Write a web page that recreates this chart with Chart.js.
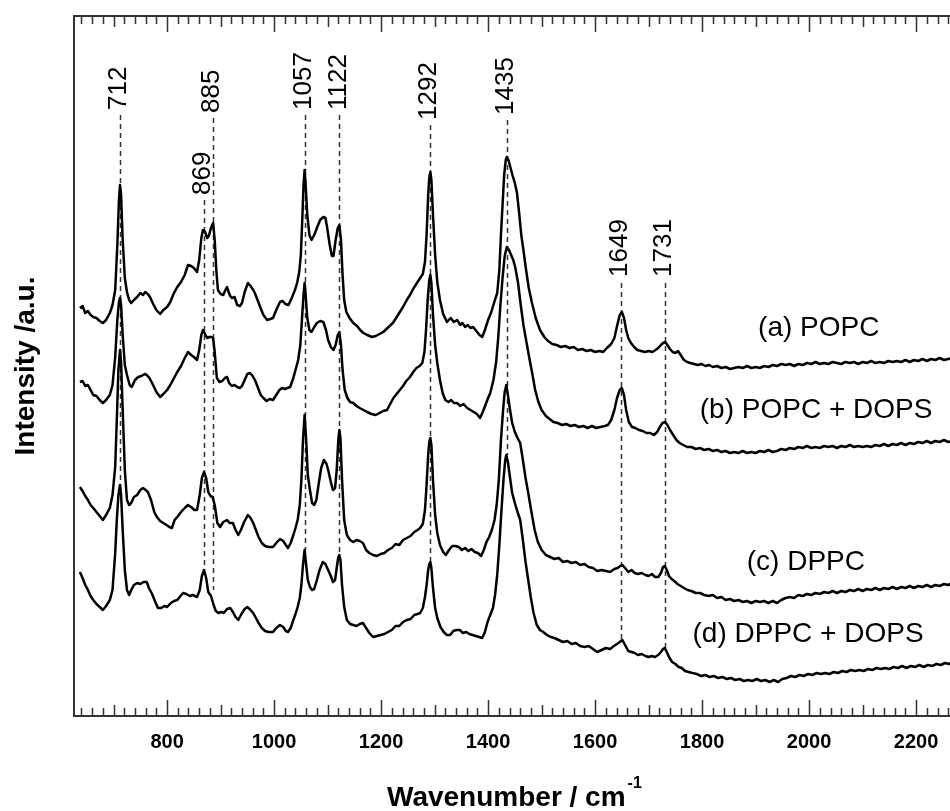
<!DOCTYPE html>
<html>
<head>
<meta charset="utf-8">
<script src="https://cdn.jsdelivr.net/npm/chart.js@4.4.0/dist/chart.umd.min.js"></script>
<style>
  html, body { margin: 0; padding: 0; background: #fff; overflow: hidden; }
  #wrap { width: 1100px; height: 811px; }
</style>
</head>
<body>
<div id="wrap"><canvas id="chart" width="1100" height="811"></canvas></div>
<script>
// --- Data (wavenumber, intensity in a.u.) ---
const xTickValues = [800, 1000, 1200, 1400, 1600, 1800, 2000, 2200, 2400];

const popc = [
  [637,408],[642,410],[647,403],[652,405],[657,401],[662,399],[668,398],[674,395],[680,393],[686,396],
  [693,403],[698,411],[703,426],[707,471],[710,516],[712,531],[714,521],[717,476],[721,438],[725,424],
  [729,416],[733,413],[738,416],[744,419],[750,423],[755,421],[759,424],[764,422],[768,419],[774,412],
  [780,406],[787,402],[793,406],[800,409],[806,414],[812,422],[819,429],[826,434],[833,441],[839,451],
  [845,450],[850,448],[856,444],[860,456],[864,478],[867,486],[871,484],[875,478],[878,480],[882,488],
  [886,493],[889,476],[892,446],[895,426],[900,422],[905,421],[909,426],[912,429],[915,424],[918,420],
  [921,418],[926,419],[931,411],[936,410],[940,413],[945,424],[951,433],[956,430],[961,426],[964,423],
  [969,416],[974,409],[980,401],[987,396],[993,397],[998,398],[1004,406],[1011,414],[1016,415],[1021,412],
  [1027,411],[1033,418],[1039,426],[1043,433],[1047,444],[1050,461],[1053,501],[1055,531],[1057,546],[1059,531],
  [1062,501],[1066,481],[1070,476],[1075,481],[1080,488],[1086,496],[1092,499],[1096,498],[1099,489],[1104,471],
  [1108,460],[1111,460],[1115,476],[1119,488],[1122,491],[1125,476],[1128,441],[1131,416],[1135,404],[1141,398],
  [1148,393],[1155,390],[1161,386],[1167,383],[1174,381],[1183,379],[1190,380],[1197,382],[1204,384],[1210,387],
  [1216,390],[1222,393],[1228,398],[1235,404],[1241,409],[1248,416],[1254,421],[1261,428],[1267,433],[1273,438],
  [1278,442],[1282,454],[1285,481],[1288,521],[1290,538],[1292,544],[1294,536],[1297,501],[1301,461],[1305,434],
  [1310,416],[1316,402],[1323,394],[1330,398],[1336,394],[1342,396],[1348,391],[1352,393],[1357,389],[1362,391],
  [1367,388],[1372,389],[1378,385],[1384,381],[1389,379],[1394,386],[1400,396],[1406,404],[1411,413],[1417,423],
  [1421,446],[1424,481],[1427,511],[1430,541],[1433,556],[1435,559],[1438,556],[1442,548],[1446,540],[1450,533],
  [1454,523],[1458,503],[1462,481],[1466,466],[1471,446],[1476,428],[1482,413],[1489,398],[1497,386],[1505,379],
  [1512,375],[1520,372],[1528,371],[1536,369],[1544,370],[1552,368],[1560,369],[1568,366],[1576,367],[1584,365],
  [1592,366],[1600,364],[1608,365],[1615,364],[1622,368],[1630,372],[1636,378],[1641,390],[1646,401],[1650,404],
  [1654,398],[1658,386],[1662,378],[1667,373],[1673,369],[1679,366],[1686,365],[1693,364],[1700,365],[1707,364],
  [1713,366],[1718,368],[1723,371],[1727,373],[1731,374],[1735,371],[1740,367],[1745,364],[1750,363],[1755,365],
  [1760,361],[1766,356],[1772,354],[1778,353],[1785,352],[1792,351],[1799,352],[1806,350],[1813,351],[1820,349],
  [1828,350],[1836,348],[1844,349],[1852,347],[1860,348],[1868,349],[1876,348],[1884,350],[1892,348],[1900,349],
  [1908,348],[1916,350],[1924,349],[1932,351],[1940,350],[1948,352],[1956,351],[1964,352],[1972,350],[1980,352],
  [1988,351],[1996,353],[2004,352],[2012,354],[2020,352],[2028,353],[2036,352],[2044,354],[2052,353],[2060,352],
  [2068,354],[2076,353],[2084,354],[2092,352],[2100,354],[2108,353],[2116,355],[2124,353],[2132,354],[2140,353],
  [2148,355],[2156,354],[2164,355],[2172,354],[2180,356],[2188,354],[2196,356],[2204,355],[2212,357],[2220,355],
  [2228,357],[2236,356],[2244,358],[2252,356],[2260,357],[2268,358],[2280,357]
];

const popcDops = [
  [637,334],[642,335],[647,330],[652,331],[657,326],[662,321],[668,320],[674,316],[680,313],[686,316],
  [693,321],[698,331],[703,359],[707,396],[710,414],[712,418],[714,411],[717,381],[721,351],[725,341],
  [730,331],[734,329],[740,336],[746,339],[752,340],[758,342],[762,341],[767,338],[772,333],[780,324],
  [787,319],[793,322],[800,326],[806,331],[812,337],[819,344],[826,350],[833,358],[839,364],[845,361],
  [850,359],[856,356],[860,366],[864,381],[867,386],[871,382],[875,378],[879,379],[883,379],[886,378],
  [889,364],[893,338],[898,334],[903,335],[908,338],[912,339],[916,333],[921,330],[926,331],[931,329],
  [936,328],[940,330],[945,336],[950,342],[955,343],[960,340],[965,335],[970,328],[975,321],[980,318],
  [986,315],[992,317],[998,316],[1004,321],[1010,326],[1015,328],[1020,327],[1025,328],[1030,329],[1036,338],
  [1041,348],[1045,356],[1049,371],[1052,396],[1055,421],[1057,433],[1059,421],[1062,398],[1066,386],[1070,384],
  [1075,389],[1080,393],[1086,395],[1092,394],[1097,386],[1101,376],[1106,369],[1111,366],[1115,371],[1119,381],
  [1122,384],[1125,371],[1128,346],[1132,326],[1137,318],[1142,314],[1148,313],[1154,310],[1160,308],[1167,306],
  [1174,304],[1182,302],[1190,301],[1197,303],[1204,305],[1211,306],[1217,312],[1223,318],[1229,322],[1235,326],
  [1241,330],[1247,335],[1254,339],[1260,344],[1266,348],[1272,350],[1277,353],[1281,364],[1284,386],[1287,416],
  [1290,436],[1292,441],[1294,433],[1297,401],[1301,371],[1305,353],[1310,336],[1315,323],[1320,316],[1326,314],
  [1331,316],[1336,313],[1342,313],[1348,310],[1354,312],[1361,308],[1367,306],[1373,304],[1379,302],[1385,298],
  [1390,304],[1395,311],[1400,318],[1404,323],[1410,336],[1415,354],[1419,379],[1423,411],[1427,438],[1431,460],
  [1435,469],[1439,466],[1443,461],[1447,456],[1451,448],[1456,433],[1461,411],[1466,391],[1471,376],[1476,361],
  [1482,344],[1488,326],[1494,314],[1500,306],[1508,300],[1515,297],[1522,294],[1530,293],[1538,291],[1546,292],
  [1554,290],[1562,291],[1570,289],[1578,290],[1586,288],[1594,290],[1602,288],[1610,289],[1618,290],[1624,291],
  [1630,296],[1636,306],[1641,318],[1646,326],[1650,328],[1654,321],[1658,306],[1663,294],[1669,289],[1675,288],
  [1682,286],[1689,285],[1696,283],[1703,283],[1710,281],[1716,284],[1721,289],[1726,293],[1731,294],[1735,291],
  [1740,286],[1746,281],[1752,276],[1758,273],[1765,271],[1772,269],[1780,269],[1788,267],[1796,268],[1804,266],
  [1812,267],[1820,265],[1828,266],[1836,264],[1844,265],[1852,263],[1860,264],[1868,263],[1876,265],[1884,263],
  [1892,264],[1900,263],[1908,265],[1916,264],[1924,266],[1932,264],[1940,265],[1948,267],[1956,266],[1964,268],
  [1972,267],[1980,269],[1988,268],[1996,270],[2004,268],[2012,269],[2020,268],[2028,270],[2036,269],[2044,270],
  [2052,268],[2060,270],[2068,269],[2076,271],[2084,269],[2092,270],[2100,269],[2108,270],[2116,269],[2124,271],
  [2132,270],[2140,272],[2148,270],[2156,272],[2164,271],[2172,273],[2180,271],[2188,273],[2196,272],[2204,274],
  [2212,273],[2220,275],[2228,273],[2236,275],[2244,274],[2252,276],[2260,274],[2268,275],[2280,275]
];

const dppc = [
  [637,229],[642,225],[647,220],[652,216],[657,211],[662,208],[668,204],[674,200],[680,196],[686,201],
  [693,208],[698,221],[703,249],[706,296],[709,346],[712,366],[714,354],[717,306],[721,246],[725,216],
  [729,211],[733,213],[738,219],[744,221],[750,226],[755,228],[760,226],[764,224],[770,216],[776,204],
  [781,199],[787,195],[793,193],[799,191],[804,189],[809,188],[814,196],[819,199],[826,204],[833,208],
  [839,211],[845,209],[851,206],[856,206],[861,221],[865,238],[869,244],[873,238],[877,224],[881,220],
  [885,219],[889,211],[894,193],[899,189],[905,194],[912,196],[917,193],[923,193],[928,186],[933,181],
  [938,186],[944,194],[951,201],[956,198],[961,193],[966,186],[971,179],[977,173],[983,170],[990,169],
  [998,169],[1004,173],[1011,177],[1017,175],[1022,171],[1026,168],[1031,173],[1036,181],[1040,188],[1044,196],
  [1048,211],[1051,236],[1054,276],[1057,301],[1060,276],[1063,241],[1067,226],[1071,213],[1075,211],[1079,216],
  [1083,231],[1088,248],[1093,256],[1098,252],[1102,244],[1106,234],[1110,226],[1114,228],[1117,246],[1120,276],
  [1122,286],[1124,278],[1127,236],[1131,196],[1136,181],[1142,176],[1148,174],[1154,176],[1160,175],[1166,173],
  [1172,166],[1178,163],[1185,161],[1192,160],[1199,162],[1206,163],[1213,166],[1220,168],[1227,172],[1234,171],
  [1241,176],[1248,178],[1255,180],[1262,184],[1268,186],[1273,188],[1278,192],[1282,206],[1285,231],[1288,261],
  [1290,274],[1292,278],[1294,271],[1297,236],[1301,201],[1305,183],[1310,171],[1316,164],[1321,161],[1327,166],
  [1333,170],[1339,170],[1345,169],[1351,166],[1357,168],[1363,165],[1369,167],[1375,164],[1381,163],[1387,160],
  [1392,166],[1397,174],[1402,179],[1407,186],[1412,196],[1416,211],[1420,236],[1424,276],[1428,306],[1431,324],
  [1434,331],[1437,321],[1441,306],[1445,293],[1450,284],[1455,278],[1460,273],[1465,256],[1470,238],[1475,223],
  [1481,204],[1487,186],[1493,174],[1500,166],[1508,161],[1516,159],[1524,157],[1532,158],[1540,154],[1548,155],
  [1556,153],[1564,154],[1572,151],[1580,152],[1588,149],[1596,148],[1604,145],[1612,146],[1620,145],[1628,144],
  [1636,147],[1642,148],[1647,150],[1651,151],[1656,148],[1662,144],[1668,146],[1674,143],[1680,142],[1687,143],
  [1694,141],[1700,140],[1706,142],[1712,139],[1718,139],[1723,143],[1727,149],[1730,150],[1734,146],[1738,140],
  [1743,137],[1748,135],[1754,132],[1760,130],[1766,128],[1773,126],[1780,125],[1788,123],[1796,123],[1804,121],
  [1812,120],[1820,121],[1828,118],[1836,119],[1844,116],[1852,117],[1860,115],[1868,116],[1876,114],[1884,115],
  [1892,113],[1900,115],[1908,114],[1916,115],[1924,113],[1932,115],[1940,113],[1948,116],[1956,118],[1964,119],
  [1972,118],[1980,121],[1988,120],[1996,122],[2004,121],[2012,123],[2020,122],[2028,124],[2036,123],[2044,125],
  [2052,123],[2060,125],[2068,124],[2076,126],[2084,125],[2092,127],[2100,125],[2108,127],[2116,126],[2124,128],
  [2132,126],[2140,128],[2148,127],[2156,129],[2164,127],[2172,129],[2180,128],[2188,130],[2196,128],[2204,130],
  [2212,129],[2220,131],[2228,129],[2236,131],[2244,130],[2252,132],[2260,131],[2268,133],[2280,132]
];

const dppcDops = [
  [637,144],[642,138],[647,131],[652,126],[657,120],[662,116],[668,112],[674,109],[680,106],[686,110],
  [693,116],[698,126],[703,163],[706,196],[709,221],[712,231],[714,221],[717,186],[721,146],[725,126],
  [729,121],[733,126],[738,131],[744,133],[750,132],[756,134],[762,134],[766,128],[772,122],[778,114],
  [783,108],[789,108],[795,110],[800,109],[807,113],[813,115],[819,116],[825,120],[830,123],[836,122],
  [842,120],[848,121],[856,119],[861,126],[865,140],[869,146],[873,138],[877,124],[882,120],[887,111],
  [891,105],[896,103],[901,104],[906,103],[912,107],[918,108],[923,104],[928,99],[933,96],[939,102],
  [945,107],[950,109],[956,106],[961,103],[966,98],[971,93],[977,88],[983,85],[990,84],[998,84],
  [1004,88],[1011,91],[1017,89],[1022,85],[1026,84],[1031,88],[1036,96],[1040,102],[1044,109],[1048,118],
  [1051,131],[1054,151],[1057,166],[1060,151],[1063,136],[1067,129],[1071,126],[1075,127],[1080,136],[1085,146],
  [1091,154],[1096,152],[1101,146],[1106,140],[1110,134],[1114,136],[1117,148],[1120,159],[1122,161],[1124,156],
  [1127,131],[1131,109],[1136,96],[1142,92],[1148,91],[1154,90],[1160,92],[1166,93],[1172,88],[1178,83],
  [1185,79],[1192,80],[1199,81],[1206,82],[1213,84],[1220,86],[1227,90],[1234,90],[1241,94],[1248,96],
  [1255,97],[1262,101],[1268,102],[1273,103],[1278,108],[1282,119],[1285,131],[1288,146],[1290,152],[1292,154],
  [1294,148],[1297,128],[1301,108],[1305,98],[1311,89],[1317,84],[1323,81],[1329,81],[1335,85],[1341,86],
  [1347,86],[1353,83],[1359,84],[1365,82],[1371,81],[1377,80],[1383,79],[1389,78],[1394,84],[1399,94],
  [1404,101],[1409,108],[1413,121],[1417,141],[1421,171],[1425,206],[1429,238],[1432,256],[1434,261],[1437,254],
  [1441,238],[1445,223],[1450,213],[1455,204],[1460,196],[1465,176],[1470,154],[1475,136],[1480,118],[1485,103],
  [1491,91],[1497,86],[1503,84],[1510,81],[1517,79],[1524,78],[1532,76],[1540,74],[1548,75],[1556,72],
  [1564,73],[1572,70],[1580,69],[1588,70],[1596,67],[1604,64],[1612,66],[1620,68],[1628,67],[1635,70],
  [1641,72],[1646,74],[1651,76],[1656,71],[1662,65],[1668,64],[1674,63],[1680,61],[1687,62],[1694,60],
  [1700,59],[1706,60],[1712,59],[1718,61],[1723,64],[1727,67],[1730,68],[1734,64],[1739,58],[1744,54],
  [1750,52],[1756,49],[1762,48],[1768,45],[1775,44],[1782,43],[1790,42],[1798,40],[1806,41],[1814,39],
  [1822,40],[1830,38],[1838,39],[1846,37],[1854,38],[1862,36],[1870,37],[1878,35],[1886,36],[1894,35],
  [1902,37],[1910,35],[1918,36],[1926,34],[1934,36],[1942,34],[1950,37],[1958,38],[1966,40],[1974,39],
  [1982,41],[1990,40],[1998,42],[2006,41],[2014,43],[2022,42],[2030,43],[2038,42],[2046,44],[2054,43],
  [2062,45],[2070,44],[2078,46],[2086,45],[2094,46],[2102,45],[2110,47],[2118,46],[2126,48],[2134,47],
  [2142,48],[2150,47],[2158,49],[2166,48],[2174,50],[2182,48],[2190,50],[2198,49],[2206,51],[2214,49],
  [2222,51],[2230,50],[2238,52],[2246,51],[2254,53],[2262,52],[2270,54],[2280,53]
];

// marked bands: wavenumber, label bottom, dash top, dash bottom (intensity units)
const peakPos    = [712, 869, 885, 1057, 1122, 1292, 1435, 1649, 1731];
const peakLabelY = [606, 521, 603, 606, 606, 596, 601, 439, 439];
const peakDashTop = [601, 516, 598, 601, 601, 591, 596, 433, 433];
const peakDashBottom = [231, 146, 126, 166, 161, 154, 261, 76, 68];

const seriesNames = ['(a) POPC', '(b) POPC + DOPS', '(c) DPPC', '(d) DPPC + DOPS'];
const seriesLabelX = [2018, 2013, 1994, 1998];
const seriesLabelY = [388, 306, 154, 82];

const FONT = '"Liberation Sans", Arial, Helvetica, sans-serif';

// --- Plugins ---
const framePlugin = {
    id: 'frame',
    beforeDatasetsDraw(chart) {
        const { ctx, scales: { x, y } } = chart;
        ctx.save();
        // dashed band markers
        ctx.strokeStyle = '#333';
        ctx.lineWidth = 1.5;
        ctx.setLineDash([5, 4]);
        peakPos.forEach((p, i) => {
            const px = Math.round(x.getPixelForValue(p)) + 0.5;
            ctx.beginPath();
            ctx.moveTo(px, y.getPixelForValue(peakDashTop[i]));
            ctx.lineTo(px, y.getPixelForValue(peakDashBottom[i]));
            ctx.stroke();
        });
        ctx.restore();
    },
    afterDraw(chart) {
        const { ctx, chartArea: a, scales: { x, y } } = chart;
        ctx.save();
        // frame
        ctx.strokeStyle = '#333';
        ctx.lineWidth = 2;
        ctx.strokeRect(a.left, a.top, a.right - a.left, a.bottom - a.top);
        // inward ticks, top and bottom
        ctx.lineWidth = 1.5;
        for (let v = 640; v <= x.max; v += 20) {
            const len = v % 200 === 0 ? 16 : (v % 100 === 0 ? 11 : 8);
            const px = Math.round(x.getPixelForValue(v)) + 0.5;
            ctx.beginPath();
            ctx.moveTo(px, a.bottom);
            ctx.lineTo(px, a.bottom - len);
            ctx.moveTo(px, a.top);
            ctx.lineTo(px, a.top + len);
            ctx.stroke();
        }
        // peak labels
        ctx.fillStyle = '#000';
        ctx.font = '26px ' + FONT;
        ctx.textAlign = 'left';
        ctx.textBaseline = 'middle';
        peakPos.forEach((p, i) => {
            ctx.save();
            ctx.translate(x.getPixelForValue(p) - 1, y.getPixelForValue(peakLabelY[i]));
            ctx.rotate(-Math.PI / 2);
            ctx.fillText(String(p), 0, 0);
            ctx.restore();
        });
        // series labels
        ctx.font = '28px ' + FONT;
        ctx.textAlign = 'center';
        seriesNames.forEach((n, i) => {
            ctx.fillText(n, x.getPixelForValue(seriesLabelX[i]), y.getPixelForValue(seriesLabelY[i]));
        });
        // x axis title with superscript
        ctx.textAlign = 'left';
        ctx.textBaseline = 'alphabetic';
        ctx.font = 'bold 28px ' + FONT;
        const title = 'Wavenumber / cm';
        const tx = 387, ty = a.bottom + 90;
        ctx.fillText(title, tx, ty);
        const w = ctx.measureText(title).width;
        ctx.font = 'bold 16px ' + FONT;
        ctx.fillText('-1', tx + w + 2, ty - 18);
        ctx.restore();
    }
};

// --- Chart ---
const mk = (data) => ({
    data: data.map(([x, y]) => ({ x, y })),
    borderColor: '#000',
    borderWidth: 2.5,
    pointRadius: 0,
    fill: false,
    tension: 0,
    borderJoinStyle: 'round'
});

new Chart(document.getElementById('chart'), {
    type: 'line',
    data: { datasets: [mk(popc), mk(popcDops), mk(dppc), mk(dppcDops)] },
    options: {
        responsive: false,
        animation: false,
        devicePixelRatio: 1,
        layout: { padding: { left: 0, right: 10, top: 16, bottom: 0 } },
        plugins: { legend: { display: false }, tooltip: { enabled: false } },
        scales: {
            x: {
                type: 'linear',
                min: 626,
                max: 2525,
                afterBuildTicks: s => { s.ticks = xTickValues.map(v => ({ value: v })); },
                afterFit: s => { s.height = 95; },
                grid: { display: false, drawTicks: false },
                border: { display: false },
                ticks: {
                    autoSkip: false,
                    maxRotation: 0,
                    padding: 14,
                    color: '#000',
                    font: { family: FONT, size: 20, weight: 'bold' },
                    callback: v => String(v)
                }
            },
            y: {
                min: 0,
                max: 700,
                afterFit: s => { s.width = 74; },
                grid: { display: false, drawTicks: false },
                border: { display: false },
                ticks: { display: false },
                title: {
                    display: true,
                    text: 'Intensity /a.u.',
                    color: '#000',
                    font: { family: FONT, size: 28, weight: 'bold' },
                    padding: { top: 9, bottom: 0 }
                }
            }
        }
    },
    plugins: [framePlugin]
});
</script>
</body>
</html>
